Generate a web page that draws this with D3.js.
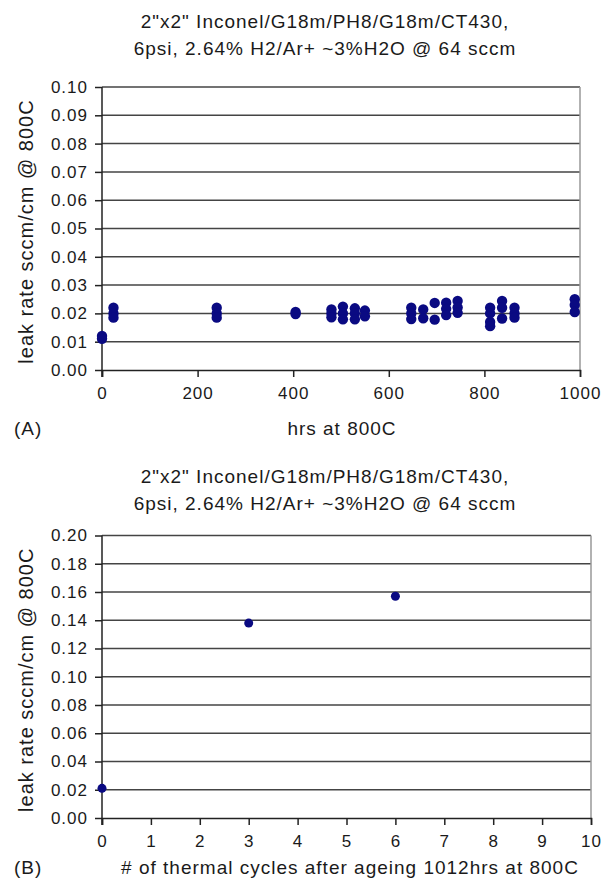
<html>
  <head>
    <meta charset="UTF-8">
    <style>
      body { margin: 0; background: #fff; }
      svg text { font-family: 'Liberation Sans', Arial, Helvetica, sans-serif; fill: #1a1a1a; letter-spacing: 1px; }
    </style>
  </head>
  <body>
    <script src="https://cdnjs.cloudflare.com/ajax/libs/d3/7.8.5/d3.min.js"></script>
    <svg id="chart" width="604" height="883"></svg>
    <script>
      var titleLines = ["2\"x2\" Inconel/G18m/PH8/G18m/CT430,", "6psi, 2.64% H2/Ar+ ~3%H2O @ 64 sccm"];
      var yLabel = "leak rate sccm/cm @ 800C";

      // panel A: leak rate vs hours at 800C
      var hoursA = [0, 0,
        24, 24, 24,
        240, 240, 240,
        405, 405,
        480, 480, 480,
        504, 504, 504,
        529, 529, 529,
        550, 550,
        647, 647, 647,
        672, 672,
        696, 696,
        720, 720, 720,
        744, 744, 744,
        812, 812, 812, 812,
        837, 837, 837,
        863, 863, 863,
        989, 989, 989];
      var leakA = [0.012, 0.011,
        0.022, 0.020, 0.0185,
        0.022, 0.020, 0.0185,
        0.0205, 0.0198,
        0.0214, 0.020, 0.0186,
        0.0224, 0.020, 0.0179,
        0.0218, 0.020, 0.0179,
        0.021, 0.019,
        0.022, 0.020, 0.018,
        0.0214, 0.0183,
        0.0237, 0.0178,
        0.0238, 0.0216, 0.0194,
        0.0244, 0.0221, 0.0202,
        0.022, 0.020, 0.017, 0.0155,
        0.0244, 0.022, 0.0182,
        0.022, 0.020, 0.0185,
        0.025, 0.023, 0.0205];
      var xTicksA = [0, 200, 400, 600, 800, 1000];
      var yTicksA = [0, 0.01, 0.02, 0.03, 0.04, 0.05, 0.06, 0.07, 0.08, 0.09, 0.10];

      // panel B: leak rate vs thermal cycles
      var cyclesB = [0, 3, 6];
      var leakB = [0.021, 0.138, 0.157];
      var xTicksB = [0, 1, 2, 3, 4, 5, 6, 7, 8, 9, 10];
      var yTicksB = [0, 0.02, 0.04, 0.06, 0.08, 0.10, 0.12, 0.14, 0.16, 0.18, 0.20];

      var svg = d3.select("#chart");

      function drawPanel(p) {
        var x = d3.scaleLinear().domain([p.xTicks[0], p.xTicks[p.xTicks.length - 1]]).range([p.left, p.right]);
        var y = d3.scaleLinear().domain([0, p.yTicks[p.yTicks.length - 1]]).range([p.bottom, p.top]);
        var g = svg.append("g");

        /* title */
        p.title.forEach(function(t, i) {
          g.append("text")
            .attr("x", p.titleX)
            .attr("y", p.titleY + i * 27)
            .attr("text-anchor", "middle")
            .style("font-size", "19px")
            .text(t);
        });

        /* grid lines */
        g.selectAll(".grid")
          .data(p.yTicks.slice(1))
          .enter().append("line")
          .attr("x1", p.left).attr("x2", p.right)
          .attr("y1", function(d) { return y(d); })
          .attr("y2", function(d) { return y(d); })
          .attr("stroke", "#444")
          .attr("stroke-width", 1.5);

        /* right border */
        g.append("line")
          .attr("x1", p.right).attr("x2", p.right)
          .attr("y1", p.top).attr("y2", p.bottom)
          .attr("stroke", "#999")
          .attr("stroke-width", 1.5);

        /* axes */
        var ya = g.append("g")
          .attr("transform", "translate(" + p.left + ",0)")
          .call(d3.axisLeft(y).tickValues(p.yTicks).tickSize(7).tickPadding(7).tickFormat(d3.format(".2f")));
        var xa = g.append("g")
          .attr("transform", "translate(0," + p.bottom + ")")
          .call(d3.axisBottom(x).tickValues(p.xTicks).tickSize(7).tickPadding(10).tickFormat(d3.format("d")));
        [ya, xa].forEach(function(a) {
          a.select(".domain").attr("stroke", "#222").attr("stroke-width", 1.5);
          a.selectAll(".tick line").attr("stroke", "#222").attr("stroke-width", 1.5);
          a.selectAll(".tick text").style("font-size", "17px").style("font-family", "'Liberation Sans', Arial, sans-serif").attr("fill", "#1a1a1a");
        });
        ya.select(".domain").attr("d", "M0," + (p.top) + "V" + (p.bottom + 7));

        /* points */
        g.selectAll(".pt")
          .data(p.xs.map(function(v, i) { return [v, p.ys[i]]; }))
          .enter().append("circle")
          .attr("cx", function(d) { return x(d[0]); })
          .attr("cy", function(d) { return y(d[1]); })
          .attr("r", p.r)
          .attr("fill", "#0a0a82");

        /* labels */
        g.append("text")
          .attr("transform", "translate(" + 33 + "," + ((p.top + p.bottom) / 2 + 3) + ") rotate(-90)")
          .attr("text-anchor", "middle")
          .style("font-size", "20px")
          .text(yLabel);
        g.append("text")
          .attr("x", p.xLabelX)
          .attr("y", p.xLabelY)
          .attr("text-anchor", "middle")
          .style("font-size", "19px")
          .text(p.xLabel);
        g.append("text")
          .attr("x", 14)
          .attr("y", p.xLabelY)
          .style("font-size", "19px")
          .text(p.tag);
      }

      drawPanel({
        left: 102, right: 580, top: 87, bottom: 370,
        xs: hoursA, ys: leakA, xTicks: xTicksA, yTicks: yTicksA, r: 5.2,
        title: titleLines, titleX: 325, titleY: 28,
        xLabel: "hrs at 800C", xLabelX: 342, xLabelY: 435, tag: "(A)"
      });

      drawPanel({
        left: 102, right: 591, top: 535.5, bottom: 818,
        xs: cyclesB, ys: leakB, xTicks: xTicksB, yTicks: yTicksB, r: 4.5,
        title: titleLines, titleX: 325, titleY: 483,
        xLabel: "# of thermal cycles after ageing 1012hrs at 800C", xLabelX: 350, xLabelY: 874, tag: "(B)"
      });
    </script>
  </body>
</html>
